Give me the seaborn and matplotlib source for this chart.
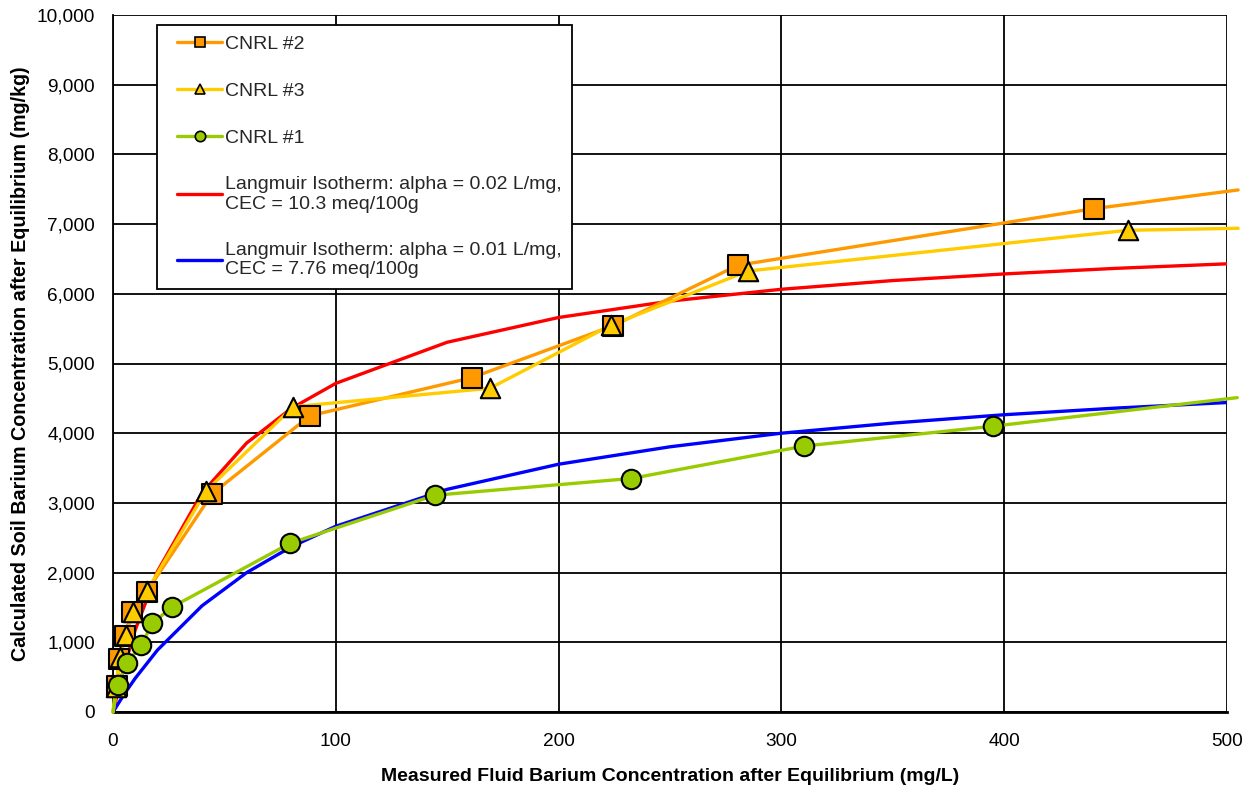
import matplotlib
matplotlib.use("Agg")
import numpy as np
import matplotlib.pyplot as plt
import matplotlib.ticker as mticker
from matplotlib.lines import Line2D
from matplotlib.legend_handler import HandlerLine2D
import seaborn as sns

sns.set_theme(style="white")
plt.rcParams['font.family'] = ['Liberation Sans', 'DejaVu Sans']

# -------------------------------
# Data
# -------------------------------
# CNRL #2 (squares) - first point is origin, last point runs just past the axis
cnrl2_x = [0, 1.8, 2.7, 5.5, 8.4, 15.1, 44.5, 88.4, 161.0, 224.4, 280.5, 440.1, 505.0]
cnrl2_y = [0, 373, 760, 1090, 1440, 1726, 3130, 4250, 4796, 5540, 6410, 7221, 7490]

# CNRL #3 (triangles)
cnrl3_x = [0, 1.3, 3.0, 5.8, 8.8, 15.3, 41.7, 80.9, 169.2, 223.5, 285.0, 455.4, 505.0]
cnrl3_y = [0, 360, 790, 1110, 1430, 1740, 3170, 4380, 4645, 5550, 6327, 6911, 6940]

# CNRL #1 (circles)
cnrl1_x = [0, 2.1, 6.1, 12.6, 17.7, 26.3, 79.4, 144.5, 232.5, 310.1, 395.0, 504.6]
cnrl1_y = [0, 390, 700, 960, 1272, 1502, 2420, 3110, 3350, 3815, 4100, 4510]

# Langmuir isotherm curves
lang_x = [0, 5, 10, 20, 40, 60, 80, 100, 150, 200, 250, 300, 350, 400, 450, 500]
lang_red_y = [0, 645, 1180, 2020, 3145, 3860, 4355, 4715, 5305, 5660, 5895, 6065,
              6190, 6285, 6365, 6430]
lang_blue_y = [0, 255, 485, 890, 1525, 2000, 2370, 2665, 3195, 3555, 3805, 4000,
               4145, 4265, 4360, 4440]

labels = ["CNRL #2", "CNRL #3", "CNRL #1",
          "Langmuir Isotherm: alpha = 0.02 L/mg,\nCEC = 10.3 meq/100g",
          "Langmuir Isotherm: alpha = 0.01 L/mg,\nCEC = 7.76 meq/100g"]

orange = "#FF9900"
yellow = "#FFCC00"
green = "#99CC00"
red = "#FF0000"
blue = "#0000FF"


# legend handler that leaves a small empty lead before the sample line
class LeadHandler(HandlerLine2D):
    lead = 7.0  # points

    def get_xdata(self, legend, xdescent, ydescent, width, height, fontsize):
        x0 = -xdescent + self.lead
        x1 = -xdescent + width
        return np.array([x0, x1]), np.array([0.5 * (x0 + x1)])


# -------------------------------
# Figure
# -------------------------------
fig = plt.figure(figsize=(12.52, 7.88), dpi=100)
ax = fig.add_axes([113 / 1252, 76 / 788, 1114 / 1252, 697 / 788])

# model curves
sns.lineplot(x=lang_x, y=lang_red_y, ax=ax, color=red, lw=2.4, sort=False,
             estimator=None, zorder=3)
sns.lineplot(x=lang_x, y=lang_blue_y, ax=ax, color=blue, lw=2.4, sort=False,
             estimator=None, zorder=3)

# measured series: lines then markers
series = [(cnrl2_x, cnrl2_y, orange, "s"),
          (cnrl3_x, cnrl3_y, yellow, "^"),
          (cnrl1_x, cnrl1_y, green, "o")]
for xs, ys, col, mk in series:
    sns.lineplot(x=xs, y=ys, ax=ax, color=col, lw=2.4, sort=False,
                 estimator=None, zorder=4, clip_on=False)
for xs, ys, col, mk in series:
    sns.scatterplot(x=xs[1:-1], y=ys[1:-1], ax=ax, marker=mk, s=196, color=col,
                    edgecolor="black", linewidth=1.5, zorder=5, clip_on=False)

ax.set_xlim(0, 500)
ax.set_ylim(0, 10000)
ax.set_xticks(range(0, 501, 100))
ax.set_yticks(range(0, 10001, 1000))
ax.yaxis.set_major_formatter(mticker.StrMethodFormatter("{x:,.0f}"))
ax.grid(True, color="black", lw=1.3)
for side in ["top", "right"]:
    ax.spines[side].set_visible(False)
ax.spines["left"].set_color("black")
ax.spines["left"].set_linewidth(1.3)
ax.spines["bottom"].set_color("black")
ax.spines["bottom"].set_linewidth(2)
ax.tick_params(axis="both", direction="out", length=5, width=1.3, color="black",
               labelsize=13.7, labelcolor="black")
ax.tick_params(axis="x", pad=10)
ax.tick_params(axis="y", pad=8)

ax.set_xlabel("Measured Fluid Barium Concentration after Equilibrium (mg/L)",
              fontsize=14, fontweight="bold", color="black", labelpad=13)
ax.set_ylabel("Calculated Soil Barium Concentration after Equilibrium (mg/kg)",
              fontsize=14.2, fontweight="bold", color="black", labelpad=5)

handles = [
    Line2D([], [], color=orange, lw=2.4, marker="s", markersize=7.5,
           markerfacecolor=orange, markeredgecolor="black", markeredgewidth=1.2),
    Line2D([], [], color=yellow, lw=2.4, marker="^", markersize=7.5,
           markerfacecolor=yellow, markeredgecolor="black", markeredgewidth=1.2),
    Line2D([], [], color=green, lw=2.4, marker="o", markersize=7.5,
           markerfacecolor=green, markeredgecolor="black", markeredgewidth=1.2),
    Line2D([], [], color=red, lw=2.4),
    Line2D([], [], color=blue, lw=2.4),
]
leg = ax.legend(handles, labels, loc="upper left",
                bbox_to_anchor=(44 / 1114, 687 / 697), fontsize=14,
                frameon=True, fancybox=False, framealpha=1, edgecolor="black",
                handlelength=2.8, handletextpad=0.15, labelspacing=1.5,
                borderpad=0.55, borderaxespad=0,
                handler_map={Line2D: LeadHandler()})
leg.get_frame().set_linewidth(1.3)
leg.set_zorder(10)

fig.savefig("out.png", dpi=100, facecolor="white")
